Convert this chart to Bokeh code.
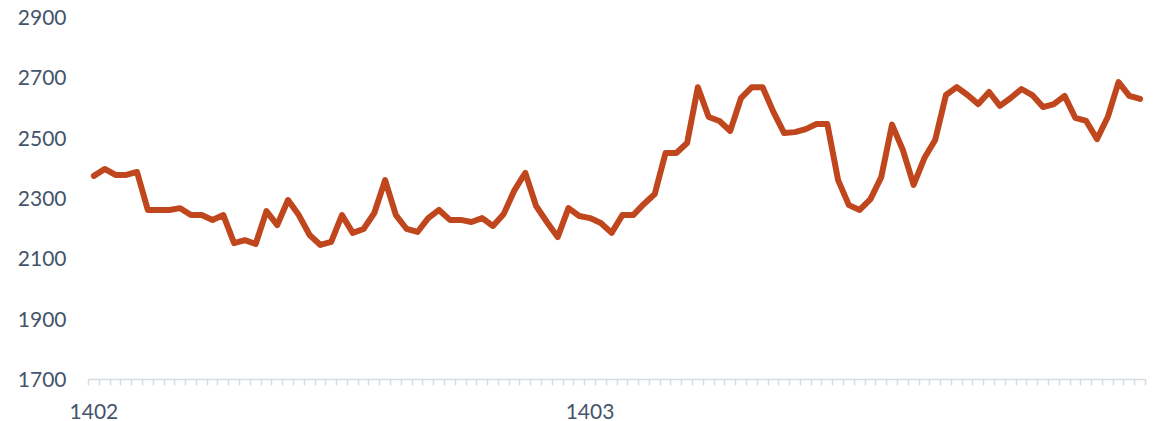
from bokeh.plotting import figure
from bokeh.models import Range1d, FixedTicker
from bokeh.embed import file_html
from bokeh.resources import INLINE

# weekly price series (index 0 = first week of 1402)
values = [
    2375, 2398, 2378, 2378, 2388, 2262, 2262, 2262, 2268, 2245,
    2245, 2229, 2245, 2152, 2162, 2149, 2258, 2212, 2295, 2245,
    2179, 2146, 2156, 2245, 2186, 2199, 2252, 2361, 2245, 2199,
    2189, 2235, 2262, 2229, 2229, 2222, 2235, 2209, 2249, 2328,
    2385, 2275, 2222, 2172, 2268, 2242, 2235, 2219, 2186, 2245,
    2245, 2282, 2315, 2451, 2451, 2484, 2669, 2570, 2557, 2524,
    2633, 2669, 2669, 2587, 2517, 2520, 2530, 2547, 2547, 2361,
    2278, 2262, 2298, 2371, 2545, 2461, 2345, 2434, 2494, 2643,
    2669, 2643, 2613, 2653, 2607, 2633, 2663, 2643, 2603, 2613,
    2640, 2567, 2557, 2497, 2570, 2686, 2640, 2630,
]
x = list(range(len(values)))

year_ticks = [0, 46]
year_labels = ["1402", "1403"]
y_ticks = [1700, 1900, 2100, 2300, 2500, 2700, 2900]

FONT = "Lato"
TXT = "#44546A"
AXC = "#D6DCE4"

p = figure(width=1155, height=421, output_backend="svg", toolbar_location=None,
           x_range=Range1d(-0.5, len(values) - 0.5), y_range=Range1d(1700, 2900),
           min_border_left=88, min_border_right=10, min_border_top=17, min_border_bottom=42)
p.outline_line_color = None
p.grid.visible = False
p.background_fill_color = "white"
p.border_fill_color = "white"

p.line(x, values, line_color="#C0461D", line_width=6, line_join="round", line_cap="round")

p.xaxis.ticker = FixedTicker(ticks=year_ticks,
                             minor_ticks=[i - 0.5 for i in range(len(values) + 1)])
p.xaxis.major_label_overrides = dict(zip(year_ticks, year_labels))
p.xaxis.axis_line_color = AXC
p.xaxis.axis_line_width = 1.5
p.xaxis.major_tick_in = 0
p.xaxis.major_tick_out = 0
p.xaxis.minor_tick_in = 0
p.xaxis.minor_tick_out = 6
p.xaxis.minor_tick_line_color = AXC
p.xaxis.minor_tick_line_width = 1.5
p.xaxis.major_label_standoff = 18
p.xaxis.major_label_text_font = FONT
p.xaxis.major_label_text_font_size = "21px"
p.xaxis.major_label_text_color = TXT

p.yaxis.ticker = FixedTicker(ticks=y_ticks, minor_ticks=[])
p.yaxis.axis_line_color = None
p.yaxis.major_tick_line_color = None
p.yaxis.major_tick_in = 0
p.yaxis.major_tick_out = 0
p.yaxis.minor_tick_line_color = None
p.yaxis.major_label_standoff = 22
p.yaxis.major_label_text_font = FONT
p.yaxis.major_label_text_font_size = "21px"
p.yaxis.major_label_text_color = TXT

open("out.html", "w").write(file_html(p, INLINE))
